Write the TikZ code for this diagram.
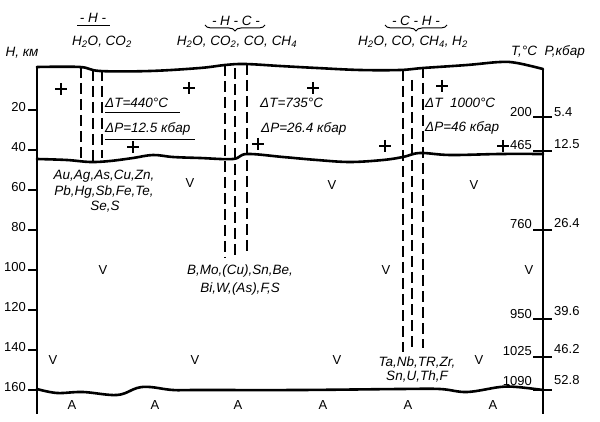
\documentclass[tikz,border=0pt]{standalone}
\usepackage{fontspec}
\setmainfont{Liberation Sans}
\usetikzlibrary{decorations.pathreplacing}
\begin{document}
\begin{tikzpicture}[x=1pt,y=-1pt,
  lbl/.style={font=\fontsize{13.5}{15}\selectfont\itshape, inner sep=0pt},
  num/.style={font=\fontsize{13}{15}\selectfont, inner sep=0pt},
  wave/.style={line width=2.6pt, line join=round, line cap=round},
  axis/.style={line width=2.6pt},
  dline/.style={line width=2.8pt, dash pattern=on 11pt off 5pt},
  plusmk/.style={line width=2.6pt},
  tickmk/.style={line width=2.6pt},
  uline/.style={line width=1pt},
  bracest/.style={line width=1pt, decorate, decoration={brace, mirror, amplitude=6pt}}]

\useasboundingbox (0,0) rectangle (600,422);

% axes
\coordinate (LT) at (37,66);
\coordinate (LB) at (37,414);
\coordinate (RT) at (543,69);
\coordinate (RB) at (543,414);
\draw[axis] (LT) -- (LB);
\draw[axis] (RT) -- (RB);

% left ticks
\foreach \h in {20,40,...,160} {
  \draw[tickmk] (28,70+2*\h) -- (37,70+2*\h);
  \node[num, anchor=east] (h\h) at (26,67+2*\h) {\h};
}
\node[lbl] (hkm) at (22,53) {H, км};
\node[lbl] (tp) at (548,52) {T,°C\ \ P,кбар};

% right ticks and labels
\foreach \ty/\tb/\tl/\pb/\pl in {117/117/200/117/5.4, 151/150/465/149/12.5, 230/229/760/228/26.4,
    319/318/950/316/39.6, 357/355/1025/353/46.2, 390/385/1090/384/52.8} {
  \draw[tickmk] (533,\ty) -- (552,\ty);
  \node[num, anchor=base east] (t\tl) at (532,\tb) {\tl};
  \node[num, anchor=base west] (p\tl) at (554,\pb) {\pl};
}

% wavy boundaries
\draw[wave] plot[smooth, tension=0.6] coordinates {(37,67) (80,67) (100,71) (150,71) (200,68) (225,65) (245,64) (280,66) (317,68) (360,70) (400,70) (423,68) (467,65) (500,62) (517,63) (543,69)};
\draw[wave] plot[smooth, tension=0.6] coordinates {(37,159) (67,160) (90,162) (110,161) (133,158) (153,155) (173,157) (200,158) (233,159) (247,154) (283,157) (317,160) (350,162) (383,160) (403,157) (420,153) (450,155) (500,154) (543,154)};
\draw[wave] plot[smooth, tension=0.6] coordinates {(37,389) (57,393) (83,392) (117,395) (137,388) (150,387) (173,390) (200,390) (300,390) (400,389) (440,389) (467,392) (500,387) (517,387) (543,390)};

% dashed channels
\foreach \x/\a/\b in {81/67/158, 93/70/162, 102/70/158,
                      225/65/258, 235/68/260, 247/64/255,
                      403/70/352, 412/80/347, 423/67/348} {
  \draw[dline] (\x,\a) -- (\x,\b);
}

% headers
\node[lbl, anchor=base] (g1) at (93,23) {- H -};
\draw[uline] (77,26) -- (110,26);
\node[lbl] (f1) at (102,42) {H\textsubscript{2}O, CO\textsubscript{2}};
\node[lbl, anchor=base] (g2) at (236,26) {- H - C -};
\draw[bracest] (205,25) -- (265,25);
\node[lbl] (f2) at (237,42) {H\textsubscript{2}O, CO\textsubscript{2}, CO, CH\textsubscript{4}};
\node[lbl, anchor=base] (g3) at (416,26) {- C - H -};
\draw[bracest] (385,25) -- (447,25);
\node[lbl] (f3) at (413,42) {H\textsubscript{2}O, CO, CH\textsubscript{4}, H\textsubscript{2}};

% delta labels
\node[lbl, anchor=base west] (dt1) at (105,108) {ΔT=440°C};
\draw[uline] (105,113) -- (180,113);
\node[lbl, anchor=base west] (dp1) at (105,133) {ΔP=12.5 кбар};
\draw[uline] (105,140) -- (195,140);
\node[lbl, anchor=base west] (dt2) at (260,108) {ΔT=735°C};
\node[lbl, anchor=base west] (dp2) at (261,133) {ΔP=26.4 кбар};
\node[lbl, anchor=base west] (dt3) at (425,108) {ΔT\ \ 1000°C};
\node[lbl, anchor=base west] (dp3) at (425,132) {ΔP=46 кбар};

% plus signs
\foreach \x/\y in {61/89, 133/147, 189/88, 258/144, 313/88, 385/146, 442/86, 503/146} {
  \draw[plusmk] (\x-6,\y) -- (\x+6,\y) (\x,\y-6) -- (\x,\y+6);
}

% element labels
\node[lbl, anchor=base] (e1) at (104,180) {Au,Ag,As,Cu,Zn,};
\node[lbl, anchor=base] (e2) at (104,196) {Pb,Hg,Sb,Fe,Te,};
\node[lbl, anchor=base] (e3) at (105,211) {Se,S};
\node[lbl, anchor=base] (e4) at (240,275) {B,Mo,(Cu),Sn,Be,};
\node[lbl, anchor=base] (e5) at (240,292) {Bi,W,(As),F,S};
\node[lbl, anchor=base] (e6) at (417,366) {Ta,Nb,TR,Zr,};
\node[lbl, anchor=base] (e7) at (417,380) {Sn,U,Th,F};

% V and A marks
\foreach \x/\y [count=\i] in {190/183, 332/185, 474/185, 103/270, 386/270, 529/270, 53/360, 195/360, 337/360, 479/360} {
  \node[num] (v\i) at (\x,\y) {V};
}
\foreach \x [count=\i] in {72,155,238,323,408,493} {
  \node[num] (a\i) at (\x,405) {A};
}
\end{tikzpicture}
\end{document}
